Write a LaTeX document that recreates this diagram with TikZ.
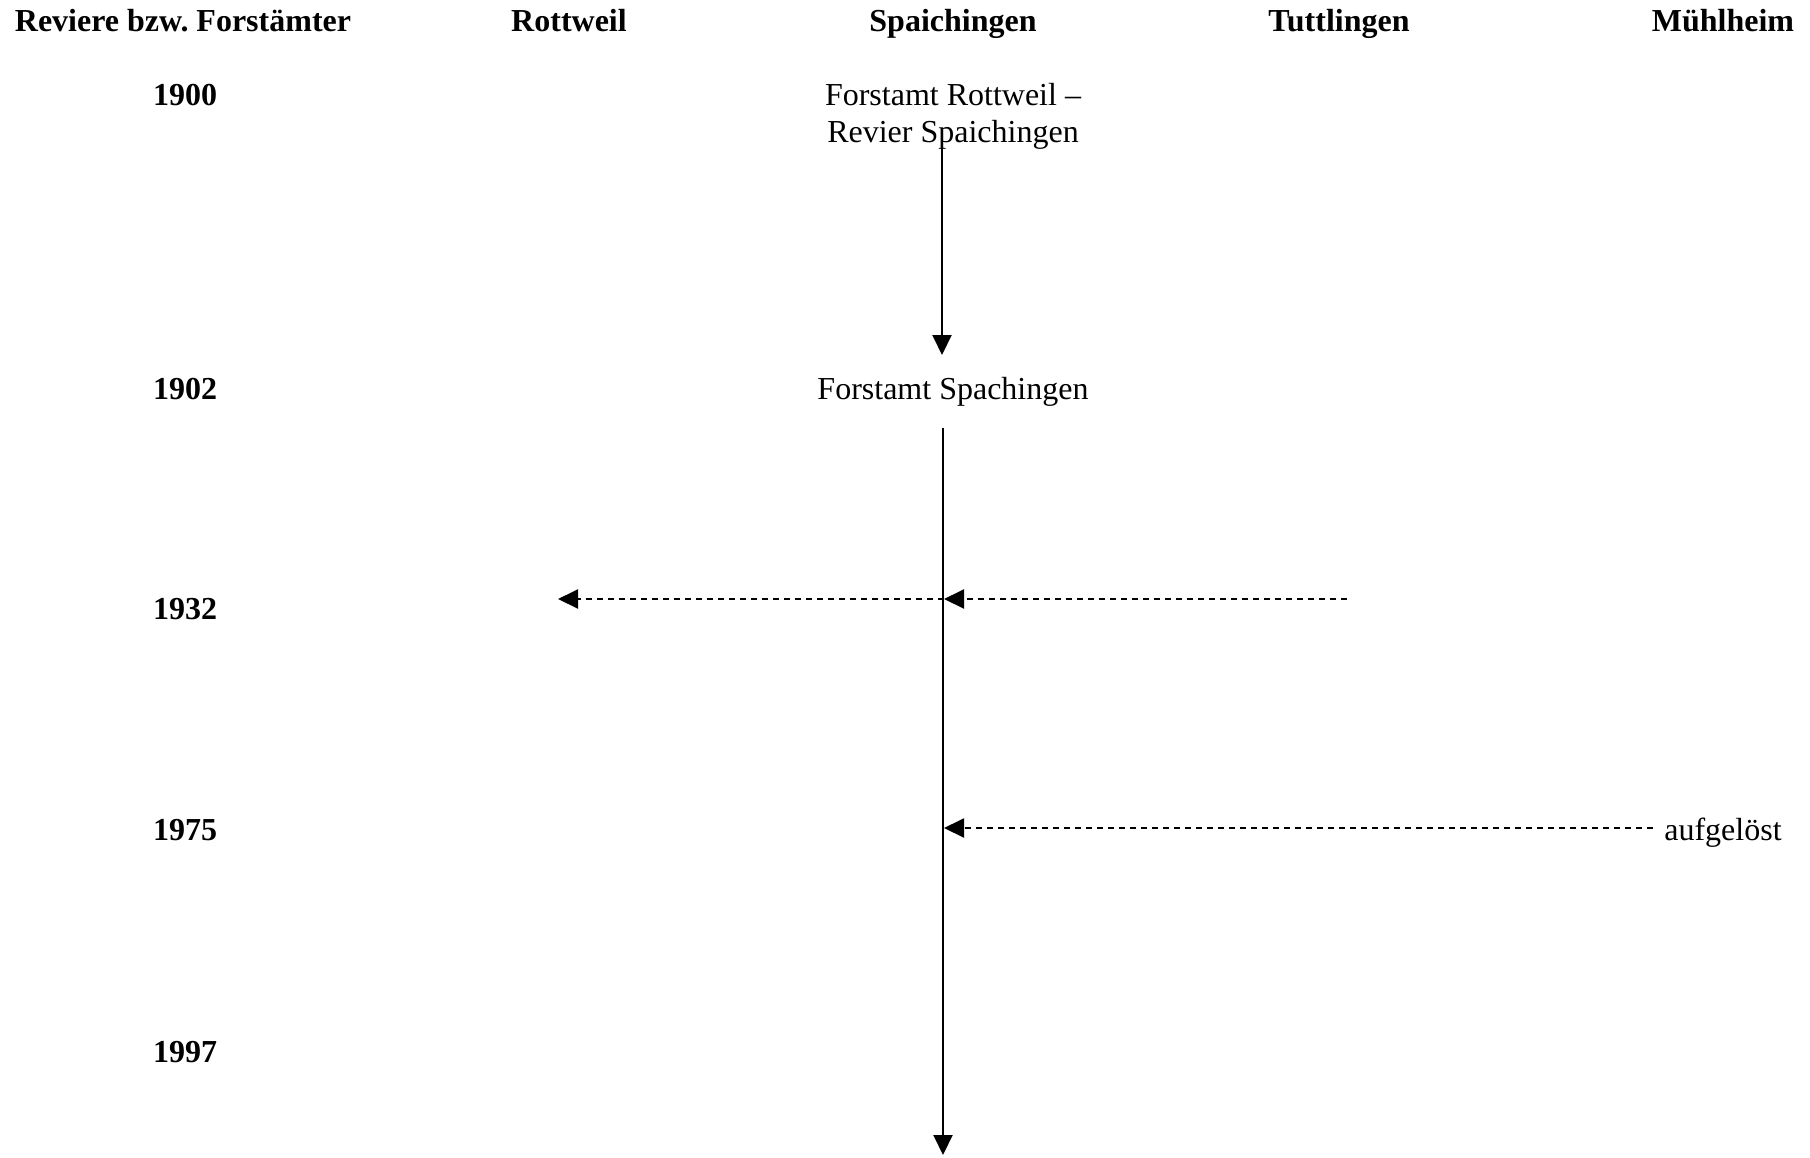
\documentclass[tikz,border=0pt]{standalone}
\usepackage{fontspec}
\setmainfont{Liberation Serif}
\usetikzlibrary{arrows.meta}
\frenchspacing
\begin{document}
\begin{tikzpicture}[x=0.5pt,y=-0.5pt,
    every node/.style={inner sep=0pt,anchor=base,font=\fontsize{16}{18.5}\selectfont},
    kopf/.style={font=\fontsize{16}{18.5}\selectfont\bfseries},
    pfeil/.style={line width=1pt,-{Triangle[length=10pt,width=9.5pt]}},
    pfeilg/.style={pfeil,dash pattern=on 3.2pt off 2.3pt}]
  \useasboundingbox (0,0) rectangle (1810,1157);
  % Spaltenkoepfe und Jahre
  \foreach \x/\t [count=\i] in {183/Reviere bzw. Forstämter,569/Rottweil,953/Spaichingen,1339/Tuttlingen,1723/Mühlheim}
    {\node[kopf] (k\i) at (\x,31) {\t};}
  \foreach \y/\j in {105/1900,399/1902,619/1932,840/1975,1062/1997}
    {\node[kopf] (j\j) at (185,\y) {\j};}
  \node[align=center] (rw) at (953,142) {Forstamt Rottweil –\\Revier Spaichingen};
  \node (sp) at (953,399) {Forstamt Spachingen};
  \node (auf) at (1723,840) {aufgelöst};
  \coordinate (a1) at (942,140);  \coordinate (a2) at (942,355);
  \coordinate (s1) at (943,428);  \coordinate (s2) at (943,1155);
  \coordinate (t32) at (1347,599); \coordinate (m32) at (944,599); \coordinate (r32) at (558,599);
  \coordinate (e75) at (1653,828); \coordinate (m75) at (944,828);
  % Pfeile
  \draw[pfeil] (a1) -- (a2);
  \draw[pfeil] (s1) -- (s2);
  \draw[pfeilg] (t32) -- (m32);
  \draw[pfeilg] (m32) -- (r32);
  \draw[pfeilg] (e75) -- (m75);
\end{tikzpicture}
\end{document}
